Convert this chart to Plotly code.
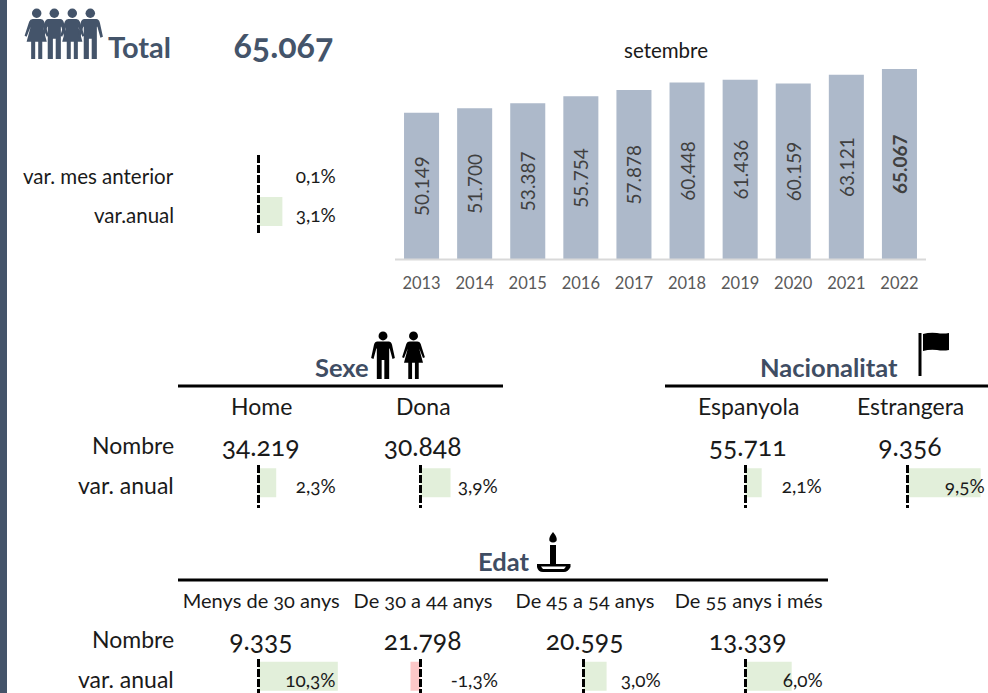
import plotly.graph_objects as go

# ---- data ----
years = ["2013", "2014", "2015", "2016", "2017", "2018", "2019", "2020", "2021", "2022"]
totals = [50149, 51700, 53387, 55754, 57878, 60448, 61436, 60159, 63121, 65067]
total_value = "65.067"
total_var_month = 0.1
total_var_year = 3.1
sexe_cats = ["Home", "Dona"]
sexe_vals = ["34.219", "30.848"]
sexe_var = [2.3, 3.9]
nac_cats = ["Espanyola", "Estrangera"]
nac_vals = ["55.711", "9.356"]
nac_var = [2.1, 9.5]
edat_cats = ["Menys de 30 anys", "De 30 a 44 anys", "De 45 a 54 anys", "De 55 anys i més"]
edat_vals = ["9.335", "21.798", "20.595", "13.339"]
edat_var = [10.3, -1.3, 3.0, 6.0]

W, H = 988, 693
SLATE = "#44546a"
TITLE = "#3f4d63"
INK = "#1a1a1a"
FONT = "Lato"
GREEN, RED = "#e2efda", "#fcc7c7"
PX_PER_PCT = 7.7
DASH = "8px,2px"

fig = go.Figure()
layout = dict(
    width=W, height=H, margin=dict(l=0, r=0, t=0, b=0, pad=0), autosize=False,
    paper_bgcolor="white", plot_bgcolor="rgba(0,0,0,0)", showlegend=False,
    font=dict(family=FONT, color=INK), barmode="overlay",
)

# main column chart
BASE_Y, TOP_Y, YMAX = 259.5, 54.6, 70000
AX_L, AX_R = 395, 926
layout["xaxis"] = dict(domain=[AX_L / W, AX_R / W], type="category", showgrid=False, zeroline=False,
                       showline=False, ticks="", tickfont=dict(size=16.5, color="#595959", family=FONT),
                       anchor="y", ticklabelstandoff=12, fixedrange=True)
layout["yaxis"] = dict(domain=[1 - BASE_Y / H, 1 - TOP_Y / H], range=[0, YMAX], visible=False, fixedrange=True, anchor="x")
labels = [f"{v:,}".replace(",", ".") for v in totals]
labels[-1] = f"<b>{labels[-1]}</b>"
fig.add_trace(go.Bar(x=years, y=totals, text=labels, textposition="inside", insidetextanchor="middle",
                     textangle=-90, insidetextfont=dict(size=19, color="#404040", family=FONT),
                     marker=dict(color="#adb9ca", line=dict(width=0)), width=0.66, cliponaxis=False,
                     xaxis="x", yaxis="y"))

# hidden pixel frame used for the furniture and the row positions
layout["xaxis2"] = dict(domain=[0, 1], range=[0, W], visible=False, anchor="y2", fixedrange=True)
layout["yaxis2"] = dict(domain=[0, 1], range=[H, 0], visible=False, anchor="x2", fixedrange=True)

# small variation bars: one x axis per table column
columns = [258.5, 420.5, 583.5, 745.5, 907.5]
for i, origin in enumerate(columns):
    lo, hi = -4, 10.4 if origin > 900 else 12
    layout[f"xaxis{i + 3}"] = dict(domain=[(origin + lo * PX_PER_PCT) / W, (origin + hi * PX_PER_PCT) / W],
                                   range=[lo, hi], visible=False, anchor="y2", fixedrange=True)

def var_bars(values, cols, row_y):
    for v, c in zip(values, cols):
        fig.add_trace(go.Bar(x=[v], y=[row_y], orientation="h", width=29,
                             marker=dict(color=GREEN if v >= 0 else RED, line=dict(width=0)),
                             xaxis=f"x{c + 3}", yaxis="y2", hoverinfo="skip"))

var_bars([total_var_year], [0], 211.5)
var_bars(sexe_var, [0, 1], 482.7)
var_bars(nac_var, [3, 4], 482.7)
var_bars(edat_var, [0, 1, 2, 3], 676.3)

shapes = []
annotations = []

def line(x0, y0, x1, y1, color="black", width=3, dash=None):
    shapes.append(dict(type="line", xref="x2", yref="y2", x0=x0, y0=y0, x1=x1, y1=y1, layer="above",
                       line=dict(color=color, width=width, dash=dash or "solid")))

def T(x, y, s, size, anchor="center", color=INK, bold=False):
    annotations.append(dict(xref="x2", yref="y2", x=x, y=y, text=f"<b>{s}</b>" if bold else s, showarrow=False,
                            xanchor=anchor, yanchor="middle", font=dict(size=size, color=color, family=FONT),
                            borderpad=0, borderwidth=0))

def poly(points, color, xs=1.0, ys=1.0, ox=0.0, oy=0.0):
    d = ""
    for p in points:
        if p == "Z":
            d += "Z"
        else:
            cmd, *c = p
            d += cmd + " ".join(
                f"{(c[i] * xs + ox):.2f},{(c[i + 1] * ys + oy):.2f}" for i in range(0, len(c), 2)) + " "
    shapes.append(dict(type="path", xref="x2", yref="y2", path=d, fillcolor=color, layer="above", line=dict(width=0)))

MAN = [("M", -6, 10.5), ("L", 6, 10.5), ("Q", 8.5, 10.5, 9.5, 14), ("L", 12.5, 28), ("L", 10, 29), ("L", 7, 18),
       ("L", 6.5, 18), ("L", 6.5, 50), ("L", 1.4, 50), ("L", 1.4, 30), ("L", -1.4, 30), ("L", -1.4, 50), ("L", -6.5, 50),
       ("L", -6.5, 18), ("L", -7, 18), ("L", -10, 29), ("L", -12.5, 28), ("L", -9.5, 14), ("Q", -8.5, 10.5, -6, 10.5), "Z"]
WOMAN = [("M", -4, 10.5), ("L", 4, 10.5), ("Q", 6.5, 10.5, 7.5, 13), ("L", 12, 27), ("L", 10, 28), ("L", 6, 18),
         ("L", 10, 33), ("L", 5.5, 33), ("L", 5.5, 50), ("L", 1.5, 50), ("L", 1.5, 33), ("L", -1.5, 33), ("L", -1.5, 50),
         ("L", -5.5, 50), ("L", -5.5, 33), ("L", -10, 33), ("L", -6, 18), ("L", -10, 28), ("L", -12, 27),
         ("L", -7.5, 13), ("Q", -6.5, 10.5, -4, 10.5), "Z"]

def person(cx, top, h, kind, color):
    s = h / 50
    poly(kind, color, s, s, cx, top)
    r = 4.7 * s
    shapes.append(dict(type="circle", xref="x2", yref="y2", x0=cx - r, x1=cx + r, y0=top, y1=top + 2 * r,
                       fillcolor=color, line=dict(width=0), layer="above"))

# left stripe
shapes.append(dict(type="rect", xref="x2", yref="y2", x0=0, x1=7, y0=0, y1=H, fillcolor=SLATE, line=dict(width=0), layer="above"))

# header
for cx, kind in zip([36.7, 54.3, 72.3, 90.3], [WOMAN, MAN, WOMAN, MAN]):
    person(cx, 8.5, 50.5, kind, SLATE)
T(108, 46, "Total", 29, "left", SLATE, True)
T(230, 44.5, total_value, 34, "left", SLATE, True)
T(666, 50, "setembre", 20.5, "center", INK)

def pct(v):
    return f"{v:.1f}".replace(".", ",") + "%"

T(173.5, 175.5, "var. mes anterior", 20.5, "right")
T(173.5, 214.5, "var.anual", 20.5, "right")
T(336.5, 175.5, pct(total_var_month), 19, "right")
T(336.5, 214.5, pct(total_var_year), 19, "right")
line(258.5, 155, 258.5, 233, dash=DASH)

# axis baseline of column chart
line(AX_L, 259.5, AX_R, 259.5, "#d9d9d9", 2)

# Sexe
line(178, 386, 503, 386)
T(369, 367, "Sexe", 25.5, "right", TITLE, True)
person(383, 331.5, 47.5, MAN, "black")
person(413.5, 331.5, 47.5, WOMAN, "black")
# Nacionalitat
line(665, 386, 988, 386)
T(898, 367, "Nacionalitat", 25.5, "right", TITLE, True)
line(920, 333, 920, 376, "black", 3)
poly([("M", 923, 334), ("Q", 930, 332, 937, 333), ("Q", 943, 334, 949, 333), ("L", 949, 350),
      ("Q", 943, 351, 937, 350), ("Q", 930, 349, 923, 351), "Z"], "black")
# row titles
for y_lab, y_var in [(445, 484.5), (639, 678.5)]:
    T(173.5, y_lab, "Nombre", 23, "right")
    T(173.5, y_var, "var. anual", 23, "right")

for cx, right, name, val, v, o in zip([261, 423, 748, 910], [337, 499, 823, 986],
                                      sexe_cats + nac_cats, sexe_vals + nac_vals, sexe_var + nac_var,
                                      [258.5, 420.5, 745.5, 907.5]):
    T(cx, 405.5, name, 23, "center")
    T(cx - 0.5, 446, val, 26.5, "center")
    T(right, 485, pct(v), 19, "right")
    line(o, 465, o, 508, dash=DASH)

# Edat
line(178, 580, 828, 580)
T(529, 561, "Edat", 25.5, "right", TITLE, True)
poly([("M", 553, 532), ("Q", 558, 538, 556.5, 541), ("Q", 553, 544, 549.5, 541), ("Q", 548, 538, 553, 532), "Z"], "black")
poly([("M", 550, 545), ("L", 556, 545), ("L", 556, 564), ("L", 570.5, 564), ("L", 570.5, 567), ("Q", 568, 572, 564, 572),
      ("L", 543, 572), ("Q", 538, 572, 537, 567), ("L", 537, 564), ("L", 550, 564), "Z"], "black")
poly([("M", 541, 566.5), ("L", 566, 566.5), ("L", 564, 569), ("L", 543, 569), "Z"], "white")
for cx, right, name, val, v, o in zip([261, 423, 585, 748], [337, 499, 662, 824], edat_cats, edat_vals, edat_var,
                                      [258.5, 420.5, 583.5, 745.5]):
    T(cx, 599.5, name, 20, "center")
    T(cx - 0.5, 640, val, 26.5, "center")
    T(right, 679, pct(v), 19, "right")
    line(o, 659, o, 700, dash=DASH)

layout["shapes"] = shapes
layout["annotations"] = annotations
fig.update_layout(**layout)

fig.write_html("out.html", config={"displayModeBar": False}, post_script=(
    "document.body.style.margin='0';"
    "var s=document.createElement('style');"
    "s.textContent='.annotation-text{font-feature-settings:\"onum\" 1;}';"
    "document.head.appendChild(s);"))
